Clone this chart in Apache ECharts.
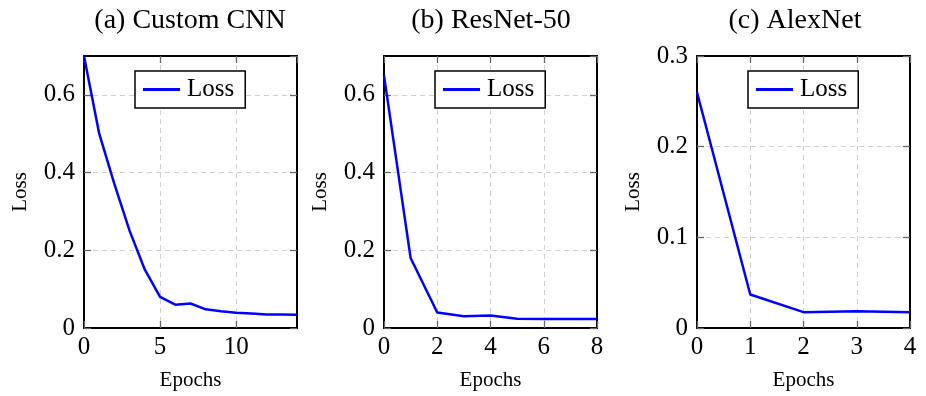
<!DOCTYPE html>
<html>
<head>
<meta charset="utf-8">
<script src="https://cdn.jsdelivr.net/npm/echarts@6/dist/echarts.min.js"></script>
<style>html,body{margin:0;padding:0;background:#fff}#c{width:926px;height:396px}</style>
</head>
<body>
<div id="c"></div>
<script>
const titles = ['(a) Custom CNN', '(b) ResNet-50', '(c) AlexNet'];
const cnnEpochs = [0,1,2,3,4,5,6,7,8,9,10,11,12,13,14];
const cnnLoss = [0.70,0.50,0.37,0.25,0.15,0.08,0.06,0.063,0.048,0.043,0.039,0.037,0.035,0.035,0.034];
const resnetEpochs = [0,1,2,3,4,5,6,7,8];
const resnetLoss = [0.65,0.18,0.04,0.03,0.032,0.024,0.023,0.023,0.023];
const alexEpochs = [0,1,2,3,4];
const alexLoss = [0.26,0.037,0.0175,0.0185,0.0175];
const xMax = [14, 8, 4];
const xInterval = [5, 2, 1];
const yMax = [0.7, 0.7, 0.3];
const yInterval = [0.2, 0.2, 0.1];

const FONT = 'Liberation Serif';
const plots = [
  {left:84, title:190, legend:135, epochs:cnnEpochs, loss:cnnLoss},
  {left:384, title:491, legend:435, epochs:resnetEpochs, loss:resnetLoss},
  {left:697, title:795, legend:748, epochs:alexEpochs, loss:alexLoss}
];
const W = 213, TOP = 56, H = 274;

const grid = [], xAxis = [], yAxis = [], series = [], legend = [], graphic = [];
plots.forEach((p, i) => {
  grid.push({left:p.left, top:TOP, width:W, height:H, show:false});
  const tick = {show:true, inside:true, length:7, lineStyle:{color:'#666', width:1.3}};
  const line = {show:true, onZero:false, lineStyle:{color:'#000', width:2}};
  const r = yMax[i] / yInterval[i];
  const showMax = Math.abs(r - Math.round(r)) < 1e-6;
  const showMaxX = xMax[i] % xInterval[i] === 0;
  xAxis.push({
    type:'value', gridIndex:i, min:0, max:xMax[i], interval:xInterval[i],
    name:'Epochs', nameLocation:'middle', nameGap:42,
    nameTextStyle:{fontFamily:FONT, fontSize:21, color:'#000'},
    axisLine:line, axisTick:tick,
    axisLabel:{fontFamily:FONT, fontSize:25, color:'#000', margin:7, showMaxLabel:showMaxX},
    splitLine:{show:true, lineStyle:{color:'#d0d0d0', type:[5,4], width:1}}
  });
  xAxis.push({
    type:'value', gridIndex:i, position:'top', min:0, max:xMax[i], interval:xInterval[i],
    axisLine:line, axisTick:tick, axisLabel:{show:false}, splitLine:{show:false}
  });
  yAxis.push({
    type:'value', gridIndex:i, min:0, max:yMax[i], interval:yInterval[i],
    name:'Loss', nameLocation:'middle', nameGap:53,
    nameTextStyle:{fontFamily:FONT, fontSize:21, color:'#000'},
    axisLine:line, axisTick:tick,
    axisLabel:{fontFamily:FONT, fontSize:25, color:'#000', margin:9, showMaxLabel:showMax},
    splitLine:{show:true, lineStyle:{color:'#d0d0d0', type:[5,4], width:1}}
  });
  yAxis.push({
    type:'value', gridIndex:i, position:'right', min:0, max:yMax[i], interval:yInterval[i],
    axisLine:line, axisTick:tick, axisLabel:{show:false}, splitLine:{show:false}
  });
  series.push({
    type:'line', name:'Loss', xAxisIndex:2*i, yAxisIndex:2*i,
    data:p.epochs.map((e, k) => [e, p.loss[k]]),
    showSymbol:false, symbol:'none',
    lineStyle:{color:'#0000ff', width:2.5}, itemStyle:{color:'#0000ff'}
  });
  legend.push({
    data:['Loss'], left:p.legend, top:71, orient:'horizontal',
    padding:[6,11,6,8], borderColor:'#000', borderWidth:1.5, backgroundColor:'#fff',
    icon:'rect', itemWidth:37, itemHeight:3, itemGap:5,
    textStyle:{fontFamily:FONT, fontSize:25, color:'#000', padding:[0,0,0,2]},
    selectedMode:false
  });
  graphic.push({
    type:'text', x:p.title, y:21,
    style:{text:titles[i], fontFamily:FONT, fontSize:28, fill:'#000', align:'center', verticalAlign:'middle'}
  });
});

const chart = echarts.init(document.getElementById('c'), null, {renderer:'canvas'});
chart.setOption({
  animation:false,
  backgroundColor:'#fff',
  grid, xAxis, yAxis, series, legend, graphic
});
</script>
</body>
</html>
